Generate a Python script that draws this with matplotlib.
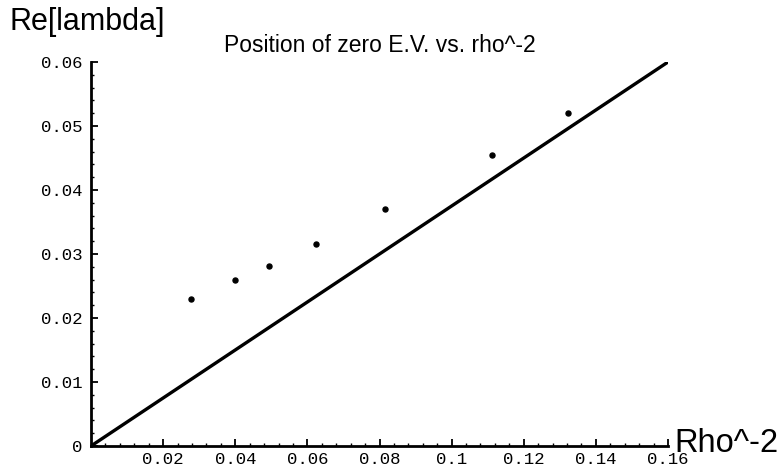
import matplotlib
matplotlib.use("Agg")
import matplotlib.pyplot as plt
from matplotlib.ticker import MultipleLocator, FixedLocator

# measured points (rho^-2, Re[lambda])
rho_inv2 = [0.0278, 0.0400, 0.0494, 0.0625, 0.0816, 0.1111, 0.1322]
re_lambda = [0.0230, 0.0260, 0.0282, 0.0316, 0.0370, 0.0454, 0.0520]

# reference line
line_x = [0.0, 0.16]
line_y = [0.0, 0.06]

x_ticks = [0.02, 0.04, 0.06, 0.08, 0.10, 0.12, 0.14, 0.16]
x_labels = ["0.02", "0.04", "0.06", "0.08", "0.1", "0.12", "0.14", "0.16"]
y_ticks = [0.0, 0.01, 0.02, 0.03, 0.04, 0.05, 0.06]
y_labels = ["0", "0.01", "0.02", "0.03", "0.04", "0.05", "0.06"]

fig = plt.figure(figsize=(7.84, 4.66), dpi=100)
ax = fig.add_axes([91/784, 20/466, 577/784, 384/466])

ax.plot(line_x, line_y, color="black", lw=2.4, solid_capstyle="butt")
ax.plot(rho_inv2, re_lambda, "o", color="black", ms=3.6)

ax.set_xlim(0, 0.16)
ax.set_ylim(0, 0.06)

for s in ["top", "right"]:
    ax.spines[s].set_visible(False)
for s in ["left", "bottom"]:
    ax.spines[s].set_linewidth(2)

ax.xaxis.set_major_locator(FixedLocator(x_ticks))
ax.set_xticklabels(x_labels)
ax.yaxis.set_major_locator(FixedLocator(y_ticks))
ax.set_yticklabels(y_labels)
ax.xaxis.set_minor_locator(MultipleLocator(0.004))
ax.yaxis.set_minor_locator(MultipleLocator(0.002))

ax.tick_params(which="major", direction="in", length=5, width=1.3, color="black")
ax.tick_params(which="minor", direction="in", length=2.5, width=1.0, color="black")
ax.tick_params(axis="x", which="major", pad=4)
ax.tick_params(axis="y", which="major", pad=6)
for lab in ax.get_xticklabels() + ax.get_yticklabels():
    lab.set_fontfamily("Liberation Mono")
    lab.set_fontsize(12.5)

fig.text(10/784, 1 - 22/466, "Re[lambda]", fontsize=22, family="Liberation Sans",
         ha="left", va="center")
fig.text(380/784, 1 - 46/466, "Position of zero E.V. vs. rho^-2", fontsize=16.5,
         family="Liberation Sans", ha="center", va="center")
fig.text(674/784, 1 - 443/466, "Rho^-2", fontsize=23.5, family="Liberation Sans",
         ha="left", va="center")

fig.savefig("out.png", dpi=100)
